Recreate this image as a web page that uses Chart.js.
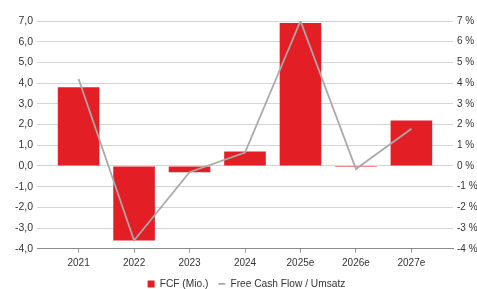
<!DOCTYPE html>
<html><head><meta charset="utf-8">
<script src="https://cdn.jsdelivr.net/npm/chart.js@4"></script>
<style>html,body{margin:0;padding:0;background:#fff;}#c{display:block;}</style>
</head><body>
<canvas id="c" width="477" height="289"></canvas>
<script>
const categories = ["2021","2022","2023","2024","2025e","2026e","2027e"];
const fcfMio = [3.8, -3.6, -0.3, 0.7, 6.9, -0.05, 2.2];
const fcfToSales = [4.2, -3.6, -0.3, 0.65, 7.0, -0.15, 1.8];
const leftTickMin = -4, leftTickMax = 7;

const fam = "'Liberation Sans', Arial, sans-serif";
const font = {family: fam, size: 10};
const fontL = {family: fam, size: 10.5};
const textColor = '#333333';
const gridColor = '#d4d4d4';
const noClip = s => { s._computeLabelArea = () => undefined; };

new Chart(document.getElementById('c'), {
  data: {
    datasets: [
      {
        type: 'line',
        label: 'Free Cash Flow / Umsatz',
        data: fcfToSales.map((v, i) => ({x: i, y: v})),
        yAxisID: 'yR',
        borderColor: '#a9a9a9',
        backgroundColor: '#a9a9a9',
        borderWidth: 1.8,
        pointRadius: 0,
        tension: 0,
        order: 0,
        pointStyle: 'line'
      },
      {
        type: 'bar',
        label: 'FCF (Mio.)',
        data: fcfMio.map((v, i) => ({x: i, y: v})),
        yAxisID: 'y',
        backgroundColor: '#e31e24',
        borderWidth: 0,
        barPercentage: 1,
        categoryPercentage: 0.75,
        order: 1,
        pointStyle: 'rect'
      }
    ]
  },
  options: {
    responsive: false,
    animation: false,
    devicePixelRatio: 1,
    layout: {padding: {top: 21, bottom: -10, left: 16, right: 0}},
    plugins: {
      legend: {
        position: 'bottom',
        reverse: true,
        labels: {
          font: {family: fam, size: 10.2}, color: textColor,
          usePointStyle: true, pointStyleWidth: 7, boxWidth: 7, boxHeight: 7,
          padding: 10
        }
      },
      tooltip: {enabled: false}
    },
    scales: {
      x: {
        type: 'linear',
        offset: false,
        min: -0.75, max: categories.length - 0.25,
        afterBuildTicks: s => { s.ticks = categories.map((_, i) => ({value: i})); },
        afterFit: s => { s.height = 20; noClip(s); },
        ticks: {font: font, color: textColor, padding: 4, maxRotation: 0,
          callback: v => categories[v]},
        grid: {offset: false, drawOnChartArea: false, drawTicks: true, tickLength: 4, color: '#9a9a9a'},
        border: {color: '#8a8a8a', width: 1}
      },
      y: {
        position: 'left',
        min: leftTickMin, max: leftTickMax,
        afterFit: s => { s.width = 21; noClip(s); },
        ticks: {stepSize: 1, font: fontL, color: textColor, padding: 4,
          callback: v => v.toFixed(1).replace('.', ',')},
        grid: {color: gridColor, lineWidth: 1, drawTicks: false},
        border: {display: false}
      },
      yR: {
        position: 'right',
        min: leftTickMin, max: leftTickMax,
        afterFit: s => { s.width = 24; noClip(s); },
        ticks: {stepSize: 1, font: font, color: textColor, padding: 4,
          callback: v => v + ' %'},
        grid: {display: false, drawTicks: false},
        border: {display: false}
      }
    }
  }
});
</script>
</body></html>
